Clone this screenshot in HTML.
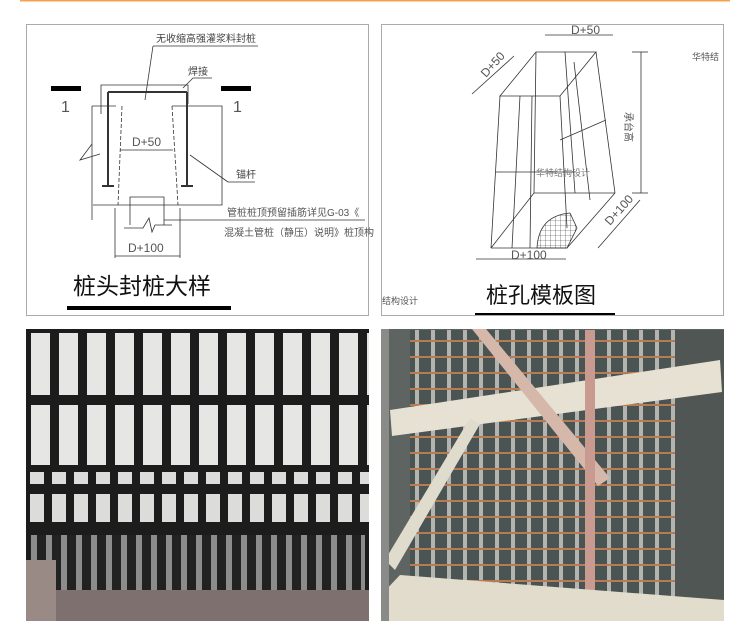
<!DOCTYPE html>
<html><head><meta charset="utf-8"><style>
html,body{margin:0;padding:0;background:#fff;width:750px;height:635px;overflow:hidden}
svg{display:block}
text{font-family:"Liberation Sans","Noto Sans CJK SC",sans-serif}
</style></head><body>
<svg width="750" height="635" viewBox="0 0 750 635" xmlns="http://www.w3.org/2000/svg">
<defs>
<pattern id="bars1" x="26" y="0" width="28" height="10" patternUnits="userSpaceOnUse"><rect width="28" height="10" fill="#1c1c1c"/><rect x="5" width="19" height="10" fill="#e6e6e4"/></pattern>
<pattern id="bars2" x="26" y="0" width="22" height="10" patternUnits="userSpaceOnUse"><rect width="22" height="10" fill="#1c1c1c"/><rect x="4" width="14" height="10" fill="#dcdcda"/></pattern>
<pattern id="bars3" x="26" y="0" width="15" height="10" patternUnits="userSpaceOnUse"><rect width="15" height="10" fill="#222"/><rect x="5" width="6" height="10" fill="#8c8c8c"/></pattern>
<pattern id="rebar" x="410" y="330" width="16" height="16" patternUnits="userSpaceOnUse"><rect width="16" height="16" fill="#4a5452"/><rect x="5" width="4" height="16" fill="#b4b4b0"/><rect y="10" width="16" height="2" fill="#b87a50"/></pattern>
<pattern id="mesh" width="5" height="5" patternUnits="userSpaceOnUse"><path d="M0 0H5M0 0V5" stroke="#333" stroke-width="0.6" fill="none"/></pattern>
</defs>
<rect x="20" y="0" width="710" height="1.5" fill="#f5a14f"/>
<rect x="26.5" y="24.5" width="342" height="291" fill="#fff" stroke="#aaa"/>
<g stroke="#333" stroke-width="0.8" fill="none">
<line x1="153" y1="46" x2="258" y2="46"/><line x1="153" y1="46" x2="145" y2="100"/>
<polyline points="101,114 101,85 188,85 188,104"/>
<polyline points="92,106 116,106"/><polyline points="172,106 222,106 222,205 93,205"/>
<line x1="92" y1="106" x2="92" y2="220"/>
<polyline points="92,144 80,160 100,154"/>
<line x1="108" y1="92" x2="108" y2="186" stroke-width="2"/><line x1="187" y1="92" x2="187" y2="186" stroke-width="2"/>
<line x1="108" y1="92" x2="187" y2="92" stroke-width="2"/>
<line x1="102" y1="186" x2="114" y2="186" stroke-width="2"/><line x1="181" y1="186" x2="193" y2="186" stroke-width="2"/>
<polyline points="122,106 118,205" stroke-dasharray="4,2"/><polyline points="172,106 178,205" stroke-dasharray="4,2"/>
<line x1="120" y1="150" x2="173" y2="150"/>
<polyline points="130,225 130,197 164,197 164,225"/><polyline points="124,228 143,228 149,218 152,232 155,225 172,225"/>
<line x1="164" y1="220" x2="365" y2="220"/>
<line x1="115" y1="208" x2="115" y2="258"/><line x1="180" y1="208" x2="180" y2="258"/>
<line x1="115" y1="256" x2="180" y2="256"/>
<line x1="190" y1="155" x2="228" y2="182"/><line x1="228" y1="182" x2="255" y2="182"/>
<line x1="183" y1="88" x2="193" y2="78"/><line x1="193" y1="78" x2="212" y2="78"/>
</g>
<rect x="51" y="86" width="30" height="5" fill="#000"/><rect x="221" y="86" width="30" height="5" fill="#000"/>
<text x="61" y="112" font-size="16" fill="#555">1</text><text x="233" y="112" font-size="16" fill="#555">1</text>
<text x="156" y="42" font-size="10" fill="#444">无收缩高强灌浆料封桩</text>
<text x="188" y="75" font-size="10" fill="#444">焊接</text>
<text x="236" y="178" font-size="10" fill="#444">锚杆</text>
<text x="132" y="146" font-size="12" fill="#555">D+50</text>
<text x="128" y="252" font-size="12" fill="#555">D+100</text>
<text x="227" y="216" font-size="10" fill="#555">管桩桩顶预留插筋详见G-03《</text>
<text x="224" y="236" font-size="10" fill="#555">混凝土管桩（静压）说明》桩顶构</text>
<text x="73" y="294" font-size="23" fill="#111">桩头封桩大样</text>
<rect x="67" y="306" width="164" height="4" fill="#000"/>
<rect x="381.5" y="24.5" width="342" height="291" fill="#fff" stroke="#aaa"/>
<g stroke="#333" stroke-width="0.8" fill="none">
<polygon points="500,96 536,52 596,52 560,96"/>
<line x1="500" y1="96" x2="491" y2="248"/><line x1="560" y1="96" x2="567" y2="228"/><line x1="596" y1="52" x2="615" y2="193"/>
<line x1="536" y1="52" x2="534" y2="193"/>
<line x1="491" y1="248" x2="567" y2="248"/><line x1="567" y1="248" x2="615" y2="193"/><line x1="491" y1="248" x2="534" y2="193"/><line x1="534" y1="193" x2="615" y2="193"/>
<line x1="520" y1="96" x2="512" y2="248"/><line x1="532" y1="96" x2="530" y2="248"/>
<line x1="565" y1="52" x2="575" y2="193"/><line x1="574" y1="62" x2="590" y2="200"/>
<line x1="496" y1="172" x2="575" y2="172"/><line x1="560" y1="140" x2="606" y2="120"/>
<line x1="472" y1="94" x2="514" y2="56"/><line x1="545" y1="35" x2="613" y2="35"/>
<line x1="641" y1="52" x2="641" y2="193"/><line x1="632" y1="52" x2="648" y2="52"/><line x1="632" y1="193" x2="648" y2="193"/>
<line x1="598" y1="248" x2="640" y2="200"/>
<line x1="476" y1="259" x2="566" y2="259"/>
</g>
<path d="M537,248 C538,228 548,215 570,213 L577,228 L567,248 Z" fill="url(#mesh)" stroke="#333" stroke-width="0.8"/>
<text x="571" y="34" font-size="12" fill="#555">D+50</text>
<text x="511" y="259" font-size="12" fill="#555">D+100</text>
<text x="0" y="0" font-size="12" fill="#555" transform="translate(486,78) rotate(-48)">D+50</text>
<text x="0" y="0" font-size="12" fill="#555" transform="translate(610,226) rotate(-48)">D+100</text>
<text x="0" y="0" font-size="10" fill="#555" transform="translate(625,112) rotate(90)">承台高</text>
<text x="536" y="176" font-size="9" fill="#777">华特结构设计</text>
<text x="692" y="60" font-size="9" fill="#555">华特结</text>
<text x="382" y="304" font-size="9" fill="#555">结构设计</text>
<text x="486" y="303" font-size="22" fill="#111">桩孔模板图</text>
<rect x="475" y="313" width="140" height="2" fill="#000"/>
<rect x="26" y="329" width="343" height="292" fill="#1c1c1c"/>
<rect x="26" y="333" width="343" height="62" fill="url(#bars1)"/>
<rect x="26" y="405" width="343" height="60" fill="url(#bars1)"/>
<rect x="26" y="472" width="343" height="12" fill="url(#bars2)"/>
<rect x="26" y="494" width="343" height="28" fill="url(#bars2)"/>
<rect x="30" y="535" width="335" height="55" fill="url(#bars3)"/>
<rect x="26" y="590" width="343" height="31" fill="#7e706e"/>
<rect x="26" y="560" width="30" height="61" fill="#9a8a86"/>
<rect x="381" y="329" width="343" height="292" fill="#5e6462"/>
<rect x="410" y="330" width="265" height="270" fill="url(#rebar)"/>
<rect x="675" y="330" width="49" height="291" fill="#505654"/>
<polygon points="390,410 720,360 722,392 392,436" fill="#e6e1d2"/>
<polygon points="472,329 486,329 610,478 598,486" fill="#d6b8aa"/>
<rect x="585" y="330" width="10" height="270" fill="#c89a90"/>
<polygon points="385,560 470,418 480,424 395,570" fill="#e0dccd"/>
<polygon points="381,595 400,575 724,600 724,621 381,621" fill="#e2dccc"/>
<rect x="381" y="329" width="8" height="292" fill="#8a8a88"/>
</svg>
</body></html>
